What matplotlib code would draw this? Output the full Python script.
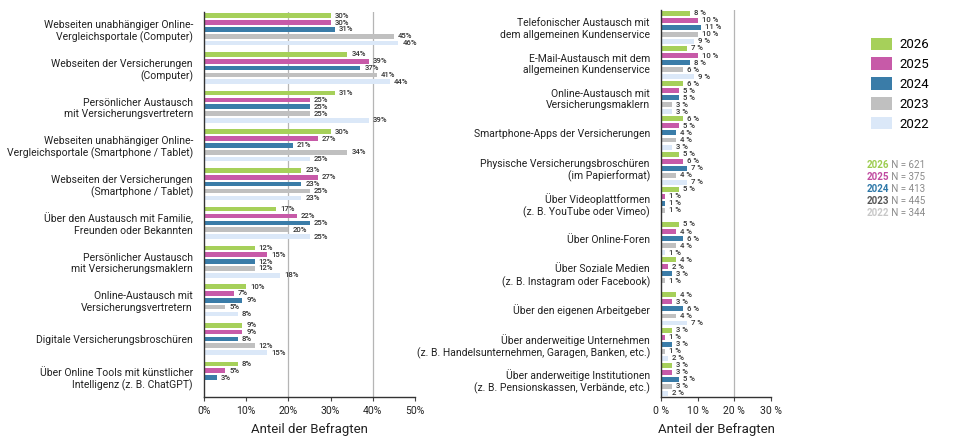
import numpy as np
import matplotlib
matplotlib.use("Agg")
import matplotlib.pyplot as plt
from matplotlib.patches import Patch

plt.rcParams['font.family'] = ['Roboto', 'DejaVu Sans']

# =================================
# DATA
# =================================

years = ["2026", "2025", "2024", "2023", "2022"]
colors = ["#a6d05a", "#c75aa8", "#3a7ca8", "#c0c0c0", "#dbe8f8"]
n_colors = ["#9ccc4e", "#c04aa0", "#2e78a8", "#555555", "#c8c8c8"]
n_values = [621, 375, 413, 445, 344]

left_cats = [
    "Webseiten unabhängiger Online-\nVergleichsportale (Computer)",
    "Webseiten der Versicherungen\n(Computer)",
    "Persönlicher Austausch\nmit Versicherungsvertretern",
    "Webseiten unabhängiger Online-\nVergleichsportale (Smartphone / Tablet)",
    "Webseiten der Versicherungen\n(Smartphone / Tablet)",
    "Über den Austausch mit Familie,\nFreunden oder Bekannten",
    "Persönlicher Austausch\nmit Versicherungsmaklern",
    "Online-Austausch mit\nVersicherungsvertretern",
    "Digitale Versicherungsbroschüren",
    "Über Online Tools mit künstlicher\nIntelligenz (z. B. ChatGPT)",
]
left_2026 = [30, 34, 31, 30, 23, 17, 12, 10, 9, 8]
left_2025 = [30, 39, 25, 27, 27, 22, 15, 7, 9, 5]
left_2024 = [31, 37, 25, 21, 23, 25, 12, 9, 8, 3]
left_2023 = [45, 41, 25, 34, 25, 20, 12, 5, 12, None]
left_2022 = [46, 44, 39, 25, 23, 25, 18, 8, 15, None]

right_cats = [
    "Telefonischer Austausch mit\ndem allgemeinen Kundenservice",
    "E-Mail-Austausch mit dem\nallgemeinen Kundenservice",
    "Online-Austausch mit\nVersicherungsmaklern",
    "Smartphone-Apps der Versicherungen",
    "Physische Versicherungsbroschüren\n(im Papierformat)",
    "Über Videoplattformen\n(z. B. YouTube oder Vimeo)",
    "Über Online-Foren",
    "Über Soziale Medien\n(z. B. Instagram oder Facebook)",
    "Über den eigenen Arbeitgeber",
    "Über anderweitige Unternehmen\n(z. B. Handelsunternehmen, Garagen, Banken, etc.)",
    "Über anderweitige Institutionen\n(z. B. Pensionskassen, Verbände, etc.)",
]
right_2026 = [8, 7, 6, 6, 5, 5, 5, 4, 4, 3, 3]
right_2025 = [10, 10, 5, 5, 6, 1, 4, 2, 3, 1, 3]
right_2024 = [11, 8, 5, 4, 7, 1, 6, 3, 6, 3, 5]
right_2023 = [10, 6, 3, 4, 4, 1, 4, 1, 4, 1, 3]
right_2022 = [9, 9, 3, 3, 7, None, 1, None, 7, 2, 2]

left_series = [left_2026, left_2025, left_2024, left_2023, left_2022]
right_series = [right_2026, right_2025, right_2024, right_2023, right_2022]

text_col = "#333333"


def draw_panel(ax, cats, series, step, height, xmax, grid_at, fmt, ylim):
    ypos = np.arange(len(cats))
    for j, vals in enumerate(series):
        for i, v in enumerate(vals):
            if v is None:
                continue
            y = ypos[i] + (j - 2) * step
            ax.barh(y, v, height=height, color=colors[j], edgecolor="none")
            ax.annotate(fmt.format(v), (v, y), xytext=(3, 0),
                        textcoords="offset points", va="center", ha="left",
                        fontsize=5.6, color=text_col, fontweight="medium")
    ax.set_yticks(ypos)
    ax.set_yticklabels(cats, fontsize=7.5, color="#222222")
    ax.tick_params(axis="y", length=0, pad=8)
    ax.set_xlim(0, xmax)
    ax.set_ylim(*ylim)
    xt = np.arange(0, xmax + 1, 10)
    ax.set_xticks(xt)
    ax.set_xticklabels([fmt.format(t) for t in xt], fontsize=7.5, color="#222222")
    ax.tick_params(axis="x", length=3, width=0.8, color="#444444")
    for g in grid_at:
        ax.axvline(g, color="#b5b5b5", lw=0.9, zorder=0)
    for s in ["top", "right"]:
        ax.spines[s].set_visible(False)
    ax.spines["left"].set_color("#333333")
    ax.spines["bottom"].set_color("#333333")
    ax.spines["left"].set_linewidth(1.0)
    ax.spines["bottom"].set_linewidth(1.0)
    ax.set_xlabel("Anteil der Befragten", fontsize=9.5, color="#222222", labelpad=5)


fig = plt.figure(figsize=(9.6, 4.44), dpi=100)

ax1 = fig.add_axes([0.2125, 0.106, 0.2198, 0.867])
draw_panel(ax1, left_cats, left_series, 0.177, 0.12, 50, [20, 40], "{}%",
           (9.5, -0.45))

ax2 = fig.add_axes([0.6885, 0.106, 0.1146, 0.872])
draw_panel(ax2, right_cats, right_series, 0.2, 0.14, 30, [20], "{} %",
           (10.5, -0.5))

# legend
handles = [Patch(facecolor=c, edgecolor="none") for c in colors]
fig.legend(handles, years, loc="upper left", bbox_to_anchor=(0.9, 0.93),
           frameon=False, fontsize=9.5, handlelength=1.6, handleheight=1.1,
           handletextpad=0.6, labelspacing=0.45, borderpad=0)

# N values
for k, (yr, c, n) in enumerate(zip(years, n_colors, n_values)):
    t = fig.text(0.903, 1 - (165 + 12 * k) / 444, yr, fontsize=7, color=c,
                 fontweight="bold", va="center")
    ax1.annotate(" N = {}".format(n), xy=(1, 0), xycoords=t, va="bottom",
                 ha="left", fontsize=7, color="#8a8a8a", annotation_clip=False)

fig.savefig("out.png", dpi=100)
